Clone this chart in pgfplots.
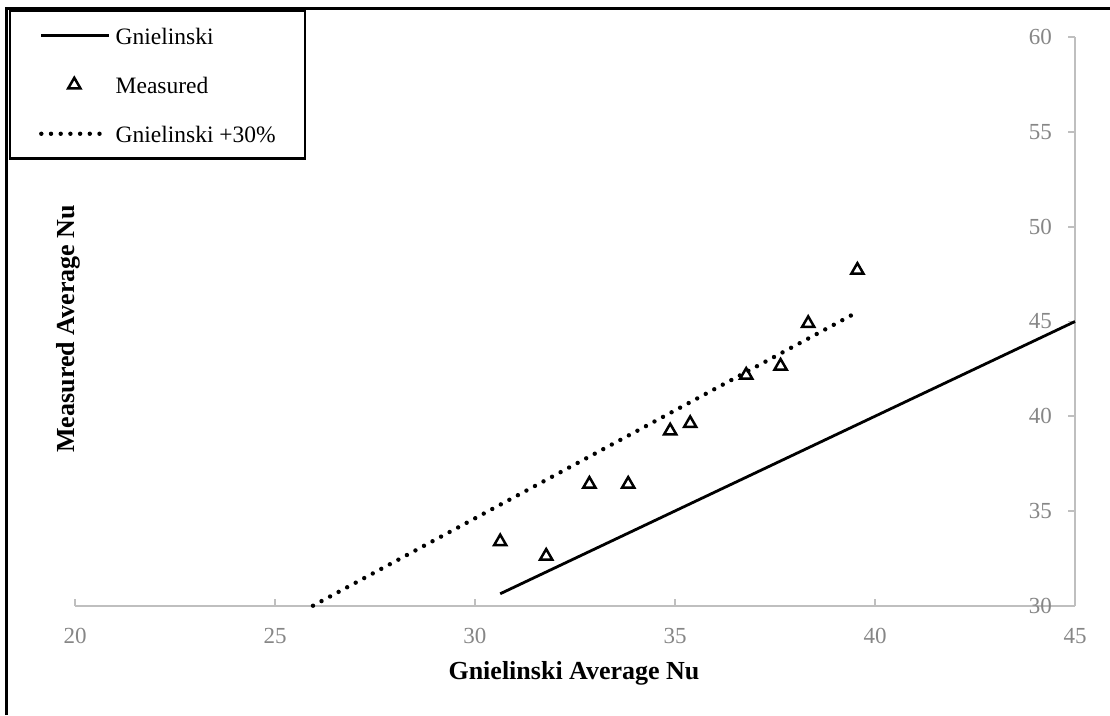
\documentclass[border=0pt]{standalone}
\usepackage{fontspec}
\setmainfont{Liberation Serif}
\usepackage{pgfplots}
\pgfplotsset{compat=1.18}
\definecolor{axgray}{RGB}{191,191,191}
\definecolor{labgray}{RGB}{134,134,134}
\pgfplotsset{
  legline/.style={legend image code/.code={\draw[##1] (0pt,0pt) -- (68pt,0pt);}},
  legmark/.style={legend image code/.code={\draw[##1] plot coordinates {(33pt,0pt)};}},
  legdots/.style={legend image code/.code={\draw[##1] (0pt,0pt) -- (60pt,0pt);}},
}
\begin{document}
\begin{tikzpicture}[x=1pt,y=1pt]
\useasboundingbox (0,0) rectangle (1110,715);
\begin{axis}[
  at={(75pt,109.3pt)}, anchor=south west,
  scale only axis, width=1000pt, height=568.4pt,
  xmin=20, xmax=45, ymin=30, ymax=60,
  axis x line=bottom, axis y line=right,
  axis line style={-, draw=axgray, line width=1.6pt},
  xtick={20,25,...,45}, ytick={30,35,...,60},
  minor tick num=0,
  tick align=inside, major tick length=7pt,
  tick style={draw=axgray, line width=1.6pt},
  /pgf/number format/assume math mode=true,
  tick label style={font=\fontsize{23}{27}\selectfont, text=labgray},
  xticklabel style={anchor=north, inner sep=0pt, yshift=-22pt},
  yticklabel style={anchor=east, inner sep=0pt, xshift=-23pt},
  xlabel={Gnielinski Average Nu},
  ylabel={Measured Average Nu},
  xlabel style={at={(axis description cs:0.499,0)}, anchor=base, yshift=-73.6pt, font=\bfseries\fontsize{26}{30}\selectfont},
  ylabel style={at={(axis description cs:0,0.494)}, anchor=base, xshift=-4pt, font=\bfseries\fontsize{26}{30}\selectfont},
  clip=false,
  legend cell align=left,
  legend style={
    at={(axis description cs:-0.066,1.048)}, anchor=north west,
    draw=black, line width=2.2pt, fill=white,
    inner xsep=29pt, inner ysep=10pt,
    column sep=5pt, row sep=19.7pt,
    nodes={inner sep=0pt, text height=23.3pt, text depth=6pt},
    font=\fontsize{23.5}{28}\selectfont,
  },
]
\addplot[black, line width=2.8pt, legline]
  coordinates {(30.63,30.63) (45,45)};
\addlegendentry{Gnielinski}
\addplot[only marks, mark=triangle, mark size=7pt,
  mark options={draw=black, fill=white, line width=2.5pt}, legmark]
  coordinates {
  (30.63,33.38) (31.78,32.62) (32.86,36.42) (33.83,36.42) (34.88,39.23)
  (35.38,39.62) (36.78,42.17) (37.64,42.65) (38.33,44.90) (39.56,47.71)};
\addlegendentry{Measured}
\addplot[black, line width=4.4pt, line cap=round, dash pattern=on 0pt off 9.7pt, legdots]
  coordinates {(25.95,30) (39.42,45.34)};
\addlegendentry{Gnielinski +30\%}
\end{axis}
\draw[line width=2.7pt, line join=miter] (6.7,0) -- (6.7,706.3) -- (1110,706.3);
\end{tikzpicture}
\end{document}
